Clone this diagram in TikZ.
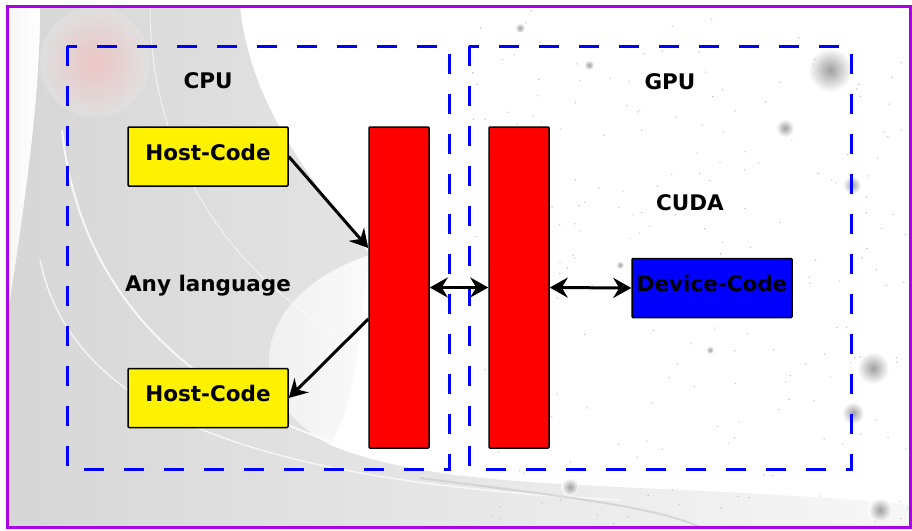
\documentclass[tikz,border=0pt]{standalone}
\usepackage{fontspec}
\setmainfont{DejaVu Sans}
\usetikzlibrary{arrows.meta,calc}
\definecolor{bordercol}{RGB}{170,0,230}
\begin{document}
\begin{tikzpicture}[x=1pt,y=-1pt,
  bigfont/.style={font=\fontsize{21.5}{26}\selectfont\bfseries},
  lbl/.style={bigfont, inner sep=0pt},
  codebox/.style={bigfont, draw=black, line width=1.5pt, minimum width=160pt, minimum height=59pt,
     inner sep=0pt, text height=16pt, text depth=9pt, rounded corners=1pt},
  hostbox/.style={codebox, fill=yellow},
  devbox/.style={codebox, fill=blue},
  bar/.style={draw=black, line width=1.5pt, fill=red, minimum width=60pt, minimum height=321pt,
     inner sep=0pt, rounded corners=1pt},
  zone/.style={draw=blue, line width=3pt, dash pattern=on 20pt off 20pt},
  conn/.style={line width=3pt, -{Stealth[length=18pt,width=20pt,inset=6pt]}},
  biconn/.style={line width=3pt, {Stealth[length=18pt,width=20pt,inset=6pt]}-{Stealth[length=18pt,width=20pt,inset=6pt]}}
]
\fill[white] (0,0) rectangle (912,530);
\useasboundingbox (0,0) rectangle (912,530);
% background swirl (approximation)
\shade[left color=gray!32, right color=gray!6]
  (40,6) -- (240,6) .. controls (250,110) and (320,190) .. (370,255)
  .. controls (260,290) and (230,390) .. (330,445)
  .. controls (450,495) and (650,480) .. (910,505) -- (910,527) -- (7,527) -- (7,320)
  .. controls (25,200) and (40,100) .. (40,6) -- cycle;
\shade[left color=gray!18, right color=gray!4, opacity=0.8]
  (370,255) .. controls (260,290) and (230,390) .. (330,445)
  .. controls (360,400) and (360,300) .. (370,255) -- cycle;
\shade[left color=gray!10, right color=white, opacity=0.7]
  (7,6) -- (40,6) .. controls (40,100) and (25,200) .. (7,320) -- cycle;
\draw[white, line width=2pt, opacity=0.8] (62,130) .. controls (80,300) and (200,430) .. (460,475);
\draw[white, line width=1.5pt, opacity=0.7] (40,260) .. controls (70,400) and (220,480) .. (620,500);
\draw[white, line width=1pt, opacity=0.6] (150,6) .. controls (150,150) and (220,260) .. (330,330);
\draw[gray!45, line width=2pt, opacity=0.6] (420,478) .. controls (550,495) and (650,505) .. (700,527);
\shade[inner color=red!30, outer color=gray!20, opacity=0.5] (95,62) circle (55);
% stars
\foreach \sx/\sy/\sr in {830/70/22, 785/128/9, 852/185/9, 873/368/16, 853/413/11, 570/487/9, 880/510/12, 520/28/5, 589/65/5, 620/265/4, 710/350/4}
  \shade[inner color=gray!75, outer color=white] (\sx,\sy) circle (\sr);
\pgfmathsetseed{42}
\foreach \i in {1,...,220}{
  \pgfmathsetmacro\px{470+438*rnd}
  \pgfmathsetmacro\py{10+515*rnd}
  \fill[gray!55] (\px,\py) circle (0.7);
}
% border
\draw[bordercol, line width=3pt] (7,6) rectangle (910,527.5);
% zones
\draw[zone] (67,46) rectangle (449,469);
\draw[zone] (469,46) rectangle (851,469);
% labels
\node[lbl, anchor=base] (cpu) at (208,88) {CPU};
\node[lbl, anchor=base] (gpu) at (670,89) {GPU};
\node[lbl, anchor=base] (cuda) at (690,210) {CUDA};
\node[lbl, anchor=base] (anylang) at (208,291) {Any language};
% nodes
\node[hostbox] (host1) at (208,156.5) {Host-Code};
\node[hostbox] (host2) at (208,398) {Host-Code};
\node[bar] (bar1) at (399,287.5) {};
\node[bar] (bar2) at (519,287.5) {};
\node[devbox] (dev) at (712,288) {Device-Code};
% connectors
\draw[conn] (host1.east) -- ($(bar1.west)+(0,-39.5)$);
\draw[conn] ($(bar1.west)+(0,31.5)$) -- (host2.east);
\draw[biconn] (bar1.east) -- (bar2.west);
\draw[biconn] (bar2.east) -- (dev.west);
\end{tikzpicture}
\end{document}
